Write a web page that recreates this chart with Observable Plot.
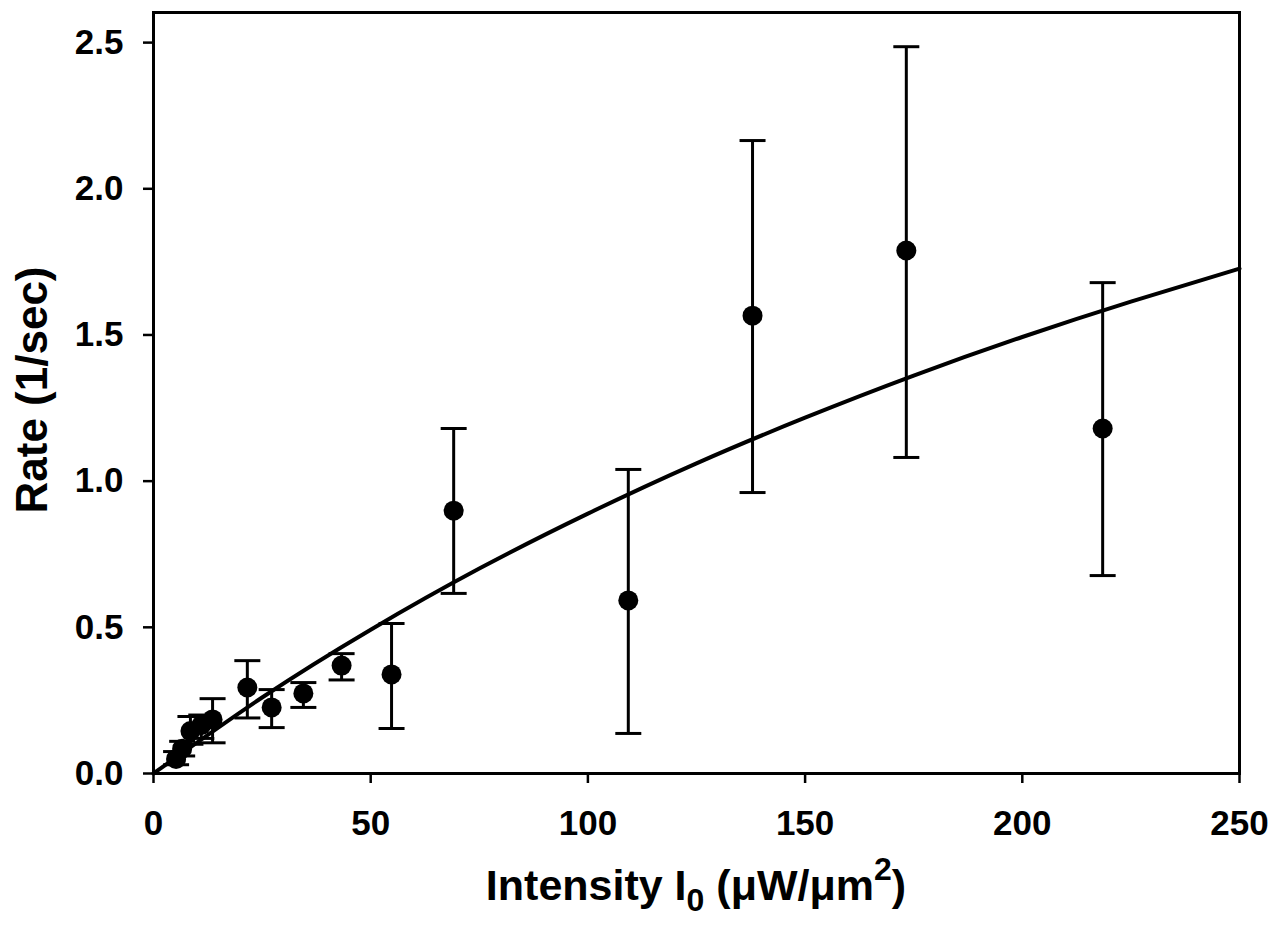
<!DOCTYPE html>
<html>
<head>
<meta charset="utf-8">
<script src="https://cdn.jsdelivr.net/npm/d3@7"></script>
<script src="https://cdn.jsdelivr.net/npm/@observablehq/plot@0.6"></script>
<style>
  html, body { margin: 0; padding: 0; background: #fff; }
  #chart { width: 1274px; height: 935px; }
</style>
</head>
<body>
<div id="chart"></div>
<script>
const intensity = [5.2, 6.6, 8.5, 11.0, 13.6, 21.6, 27.2, 34.5, 43.3, 54.8, 69.1, 109.3, 137.9, 173.3, 218.5];
const rate      = [0.05, 0.085, 0.145, 0.165, 0.185, 0.294, 0.226, 0.274, 0.369, 0.339, 0.899, 0.592, 1.566, 1.789, 1.180];
const rateLow   = [0.03, 0.06, 0.10, 0.12, 0.105, 0.19, 0.157, 0.226, 0.32, 0.154, 0.616, 0.137, 0.961, 1.081, 0.677];
const rateHigh  = [0.075, 0.11, 0.195, 0.20, 0.256, 0.386, 0.287, 0.311, 0.41, 0.513, 1.18, 1.04, 2.165, 2.486, 1.679];

// Fitted curve
const fitIntensity = [0, 25, 50, 75, 100, 125, 150, 175, 200, 225, 250];
const fitRate      = [0, 0.260, 0.492, 0.701, 0.889, 1.061, 1.217, 1.361, 1.493, 1.614, 1.727];

const xTicks = [0, 50, 100, 150, 200, 250];
const yTicks = [0, 0.5, 1.0, 1.5, 2.0, 2.5];

const points = intensity.map((x, i) => ({x, y: rate[i], lo: rateLow[i], hi: rateHigh[i]}));
const fit = fitIntensity.map((x, i) => ({x, y: fitRate[i]}));

const capSymbol = {
  draw(context) {
    context.moveTo(-13, 0);
    context.lineTo(13, 0);
  }
};

const font = "'Liberation Sans', Arial, Helvetica, sans-serif";

const plot = Plot.plot({
  width: 1274,
  height: 935,
  marginLeft: 153,
  marginRight: 35,
  marginTop: 12,
  marginBottom: 162,
  style: {fontFamily: font, fontWeight: "bold", fontSize: "35px", color: "#000", background: "#fff"},
  x: {domain: [0, 250]},
  y: {domain: [0, 2.603]},
  marks: [
    Plot.axisX({ticks: xTicks, tickSize: 10, tickPadding: 27, strokeWidth: 2.5, fontSize: 35, fontWeight: "bold", label: null}),
    Plot.axisY({ticks: yTicks, tickSize: 10, tickPadding: 20, strokeWidth: 2.5, fontSize: 35, fontWeight: "bold", tickFormat: d3.format(".1f"), label: null}),
    Plot.ruleX(points, {x: "x", y1: "lo", y2: "hi", stroke: "#000", strokeWidth: 3}),
    Plot.dot(points, {x: "x", y: "lo", symbol: capSymbol, fill: "none", stroke: "#000", strokeWidth: 3}),
    Plot.dot(points, {x: "x", y: "hi", symbol: capSymbol, fill: "none", stroke: "#000", strokeWidth: 3}),
    Plot.line(fit, {x: "x", y: "y", curve: "natural", stroke: "#000", strokeWidth: 4}),
    Plot.dot(points, {x: "x", y: "y", r: 10, fill: "#000", stroke: "none"}),
    Plot.frame({stroke: "#000", strokeWidth: 3})
  ]
});

document.getElementById("chart").appendChild(plot);

// Axis titles with subscript / superscript
const svg = d3.select(plot);
const xt = svg.append("text")
  .attr("x", 696).attr("y", 900)
  .attr("text-anchor", "middle")
  .attr("font-family", font).attr("font-weight", "bold").attr("font-size", 43)
  .attr("fill", "#000");
xt.append("tspan").text("Intensity I");
xt.append("tspan").attr("font-size", 32).attr("dy", 11).text("0");
xt.append("tspan").attr("dy", -11).text(" (μW/μm");
xt.append("tspan").attr("font-size", 32).attr("dy", -20).text("2");
xt.append("tspan").attr("dy", 20).text(")");

svg.append("text")
  .attr("transform", "translate(47,390) rotate(-90)")
  .attr("text-anchor", "middle")
  .attr("font-family", font).attr("font-weight", "bold").attr("font-size", 44)
  .attr("fill", "#000")
  .text("Rate (1/sec)");
</script>
</body>
</html>
